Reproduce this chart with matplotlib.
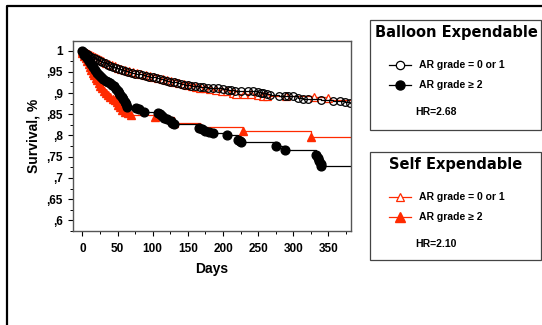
import matplotlib.pyplot as plt
from matplotlib.lines import Line2D
from matplotlib.patches import Rectangle
from matplotlib.ticker import MultipleLocator, FixedLocator

# balloon expandable, AR grade 0 or 1 (open circles)
bal_lo_days = [0, 2, 4, 6, 8, 10, 13, 16, 19, 22, 25, 28, 32, 36, 40, 44, 48, 52, 56, 60,
               65, 70, 75, 80, 85, 90, 95, 100, 105, 110, 115, 120, 125, 130, 135, 140,
               145, 150, 155, 160, 167, 172, 179, 186, 193, 200, 207, 212, 217, 225, 236,
               243, 250, 254, 257, 262, 267, 280, 288, 293, 300, 307, 314, 321, 340, 357,
               367, 374, 381]
bal_lo_surv = [1.0, 0.997, 0.994, 0.991, 0.989, 0.987, 0.985, 0.983, 0.98, 0.978, 0.976,
               0.973, 0.97, 0.967, 0.964, 0.962, 0.96, 0.957, 0.955, 0.952, 0.95, 0.948,
               0.946, 0.945, 0.943, 0.941, 0.939, 0.937, 0.935, 0.933, 0.931, 0.929, 0.927,
               0.925, 0.924, 0.922, 0.92, 0.918, 0.917, 0.916, 0.915, 0.914, 0.913, 0.912,
               0.911, 0.909, 0.907, 0.907, 0.906, 0.905, 0.905, 0.904, 0.903, 0.901, 0.9,
               0.898, 0.896, 0.894, 0.893, 0.893, 0.892, 0.888, 0.887, 0.886, 0.884, 0.882,
               0.881, 0.88, 0.877]

# balloon expandable, AR grade >= 2 (filled circles)
bal_hi_days = [0, 3, 6, 9, 12, 15, 18, 21, 24, 27, 30, 33, 36, 39, 42, 45, 48, 50, 52, 54,
               56, 58, 60, 62, 64, 77, 80, 87, 108, 111, 113, 116, 120, 126, 128, 130, 166,
               170, 175, 180, 186, 205, 222, 224, 226, 275, 288, 332, 335, 337, 339, 340]
bal_hi_surv = [1.0, 0.99, 0.982, 0.975, 0.968, 0.961, 0.954, 0.947, 0.942, 0.937, 0.933,
               0.929, 0.926, 0.923, 0.92, 0.916, 0.91, 0.905, 0.9, 0.895, 0.89, 0.886, 0.88,
               0.874, 0.868, 0.865, 0.862, 0.856, 0.853, 0.85, 0.846, 0.842, 0.838, 0.833,
               0.829, 0.827, 0.817, 0.815, 0.81, 0.808, 0.806, 0.8, 0.79, 0.786, 0.784,
               0.775, 0.765, 0.754, 0.747, 0.74, 0.733, 0.728]

# self expandable, AR grade 0 or 1 (open triangles)
self_lo_days = [0, 3, 6, 9, 12, 15, 18, 21, 24, 27, 30, 34, 38, 42, 46, 50, 55, 60, 66, 72,
                78, 84, 90, 96, 102, 108, 114, 120, 126, 132, 138, 144, 150, 156, 162, 168,
                175, 182, 190, 198, 206, 214, 219, 230, 240, 250, 257, 262, 290, 330, 350]
self_lo_surv = [1.0, 0.998, 0.995, 0.993, 0.99, 0.988, 0.986, 0.983, 0.98, 0.978, 0.975,
                0.972, 0.969, 0.966, 0.963, 0.96, 0.957, 0.954, 0.951, 0.949, 0.947, 0.945,
                0.943, 0.94, 0.938, 0.936, 0.934, 0.931, 0.929, 0.926, 0.923, 0.921, 0.919,
                0.917, 0.915, 0.913, 0.912, 0.91, 0.908, 0.906, 0.904, 0.901, 0.899, 0.898,
                0.897, 0.895, 0.894, 0.893, 0.892, 0.891, 0.889]

# self expandable, AR grade >= 2 (filled triangles)
self_hi_days = [0, 3, 5, 7, 9, 11, 13, 15, 17, 19, 21, 23, 25, 28, 31, 34, 37, 40, 43, 46,
                49, 51, 54, 57, 61, 65, 69, 103, 131, 167, 228, 325]
self_hi_surv = [0.995, 0.988, 0.982, 0.975, 0.968, 0.961, 0.955, 0.948, 0.942, 0.936, 0.93,
                0.924, 0.917, 0.911, 0.905, 0.9, 0.895, 0.891, 0.887, 0.883, 0.878, 0.872,
                0.867, 0.861, 0.856, 0.852, 0.848, 0.843, 0.829, 0.821, 0.81, 0.796]

# last steps drawn without a marker (day, survival)
bal_lo_tail = ([382], [0.877])
bal_hi_tail = ([382], [0.728])
self_lo_tail = ([353, 382], [0.884, 0.884])
self_hi_tail = ([382], [0.796])

x_ticks = [0, 50, 100, 150, 200, 250, 300, 350]
y_ticks = [0.6, 0.65, 0.7, 0.75, 0.8, 0.85, 0.9, 0.95, 1.0]
y_tick_labels = [",6", ",65", ",7", ",75", ",8", ",85", ",9", ",95", "1"]

RED = "#ff2a00"
W, H = 542, 325


def fx(px):
    return px / W


def fy(py):
    return 1 - py / H


fig = plt.figure(figsize=(5.42, 3.25), dpi=100)
ax = fig.add_axes([fx(72.5), fy(231), fx(351) - fx(72.5), fy(41) - fy(231)])

curves = [
    (self_lo_days, self_lo_surv, self_lo_tail, RED, dict(marker="^", mfc="white", mec=RED, ms=5.5, mew=0.9)),
    (self_hi_days, self_hi_surv, self_hi_tail, RED, dict(marker="^", mfc=RED, mec=RED, ms=6)),
    (bal_lo_days, bal_lo_surv, bal_lo_tail, "black", dict(marker="o", mfc="none", mec="black", ms=5.5, mew=0.9)),
    (bal_hi_days, bal_hi_surv, bal_hi_tail, "black", dict(marker="o", mfc="black", mec="black", ms=6.3)),
]
for d, s, tail, col, mk in curves:
    ax.step(d + tail[0], s + tail[1], where="post", color=col, lw=0.9)
    ax.plot(d, s, ls="none", **mk)

ax.set_xlim(-14, 382)
ax.set_ylim(0.5748, 1.0228)
ax.xaxis.set_major_locator(FixedLocator(x_ticks))
ax.xaxis.set_minor_locator(MultipleLocator(25))
ax.yaxis.set_major_locator(FixedLocator(y_ticks))
ax.yaxis.set_minor_locator(MultipleLocator(0.025))
ax.set_yticklabels(y_tick_labels)
ax.tick_params(which="major", length=3.5, width=0.8, labelsize=8.5)
ax.tick_params(axis="x", which="major", pad=5.5)
ax.tick_params(axis="y", which="major", pad=3.5)
ax.tick_params(which="minor", length=2, width=0.7)
for lab in ax.get_xticklabels() + ax.get_yticklabels():
    lab.set_fontfamily("Liberation Sans")
    lab.set_fontweight("bold")
for sp in ax.spines.values():
    sp.set_color("#555555")
    sp.set_linewidth(1)
ax.set_xlabel("Days", fontsize=10, fontweight="bold", family="Liberation Sans", labelpad=4.5)
ax.set_ylabel("Survival, %", fontsize=10, fontweight="bold", family="Liberation Sans", labelpad=4)

# outer frame (top and left edges)
fig.add_artist(Line2D([fx(7), fx(7), 1], [0, fy(6), fy(6)], color="black", lw=1.6))


def legend_box(top, bottom, title, lo_style, hi_style, col, hr):
    fig.add_artist(Rectangle((fx(369.5), fy(bottom)), fx(540.5) - fx(369.5), fy(top) - fy(bottom),
                             fill=False, ec="#444444", lw=0.9))
    fig.text(fx(456), fy(top + 13), title, ha="center", va="center",
             fontsize=10.5, fontweight="bold", family="DejaVu Sans")
    rows = [(top + 45, lo_style, "AR grade = 0 or 1"), (top + 65, hi_style, "AR grade \u2265 2")]
    for y, mk, label in rows:
        fig.add_artist(Line2D([fx(389), fx(411)], [fy(y), fy(y)], color=col, lw=0.9))
        fig.add_artist(Line2D([fx(400)], [fy(y)], ls="none", **mk))
        fig.text(fx(419), fy(y), label, ha="left", va="center", fontsize=7.5,
                 fontweight="bold", family="Liberation Sans")
    fig.text(fx(415), fy(top + 92), hr, ha="left", va="center", fontsize=7.5,
             fontweight="bold", family="Liberation Sans")


legend_box(20, 130, "Balloon Expendable",
           dict(marker="o", mfc="white", mec="black", ms=6, mew=0.9),
           dict(marker="o", mfc="black", mec="black", ms=6.5), "black", "HR=2.68")
legend_box(152, 260, "Self Expendable",
           dict(marker="^", mfc="white", mec=RED, ms=6, mew=0.9),
           dict(marker="^", mfc=RED, mec=RED, ms=6.5), RED, "HR=2.10")

fig.savefig("out.png", dpi=100)
